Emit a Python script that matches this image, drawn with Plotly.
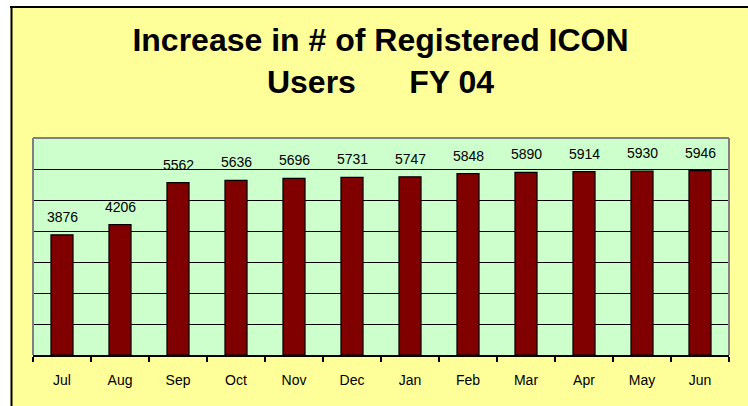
import plotly.graph_objects as go

months = ["Jul", "Aug", "Sep", "Oct", "Nov", "Dec", "Jan", "Feb", "Mar", "Apr", "May", "Jun"]
users = [3876, 4206, 5562, 5636, 5696, 5731, 5747, 5848, 5890, 5914, 5930, 5946]
title_lines = ["Increase in # of Registered ICON", "Users\u00a0\u00a0\u00a0\u00a0\u00a0\u00a0FY 04"]

W, H = 748, 406
L, R, T, B = 33, 19, 138, 51
pw, ph = W - L - R, H - T - B

def px_x(px):
    return (px - L) / pw

def px_y(py):
    return (H - B - py) / ph

fig = go.Figure()
fig.add_trace(go.Bar(
    x=months, y=users,
    marker=dict(color="#800000", line=dict(color="black", width=1.2)),
    hoverinfo="x+y",
))

annotations = [
    dict(x=m, y=v, xref="x", yref="y", text=str(v), showarrow=False,
         yanchor="bottom", yshift=8,
         font=dict(family="Arial, Liberation Sans, sans-serif", size=14, color="black"))
    for m, v in zip(months, users)
]

shapes = [
    # white surroundings outside the framed chart area
    dict(type="rect", xref="paper", yref="paper", x0=-1, x1=3, y0=px_y(6), y1=px_y(-50),
         fillcolor="white", line=dict(width=0), layer="above"),
    dict(type="rect", xref="paper", yref="paper", x0=px_x(-50), x1=px_x(10.5), y0=-2, y1=3,
         fillcolor="white", line=dict(width=0), layer="above"),
    # black frame top and left
    dict(type="line", xref="paper", yref="paper", x0=px_x(10), x1=px_x(800), y0=px_y(7), y1=px_y(7),
         line=dict(color="black", width=2), layer="above"),
    dict(type="line", xref="paper", yref="paper", x0=px_x(11.5), x1=px_x(11.5), y0=px_y(6), y1=px_y(450),
         line=dict(color="black", width=2), layer="above"),
    # grey plot border (top, left, right)
    dict(type="line", xref="paper", yref="paper", x0=0, x1=0, y0=0, y1=1,
         line=dict(color="#808080", width=2), layer="above"),
    dict(type="line", xref="paper", yref="paper", x0=1, x1=1, y0=0, y1=1,
         line=dict(color="#808080", width=2), layer="above"),
    dict(type="line", xref="paper", yref="paper", x0=0, x1=1, y0=1, y1=1,
         line=dict(color="#808080", width=2), layer="above"),
]

fig.update_layout(
    width=W, height=H,
    margin=dict(l=L, r=R, t=T, b=B, pad=0),
    paper_bgcolor="#FFFF99",
    plot_bgcolor="#CCFFCC",
    showlegend=False,
    bargap=0.62,
    title=dict(
        text="<br>".join(title_lines),
        x=380.5 / W, xanchor="center",
        y=1 - 51 / H, yanchor="top", yref="container",
        font=dict(family="Arial, Liberation Sans, sans-serif", size=32, color="black", weight="bold"),
    ),
    xaxis=dict(
        showline=True, linecolor="black", linewidth=2,
        ticks="outside", ticklen=5, tickwidth=1.5, tickcolor="black",
        tickson="boundaries", showgrid=False,
        ticklabelstandoff=11,
        tickfont=dict(family="Arial, Liberation Sans, sans-serif", size=14, color="black"),
    ),
    yaxis=dict(
        range=[0, 7000], dtick=1000, showticklabels=False, ticks="",
        showgrid=True, gridcolor="black", gridwidth=1,
        zeroline=False, showline=False, fixedrange=True,
    ),
    annotations=annotations,
    shapes=shapes,
)

fig.write_html(
    "out.html",
    config={"displayModeBar": False},
    post_script="document.body.style.margin='0';document.body.style.overflow='hidden';",
)
